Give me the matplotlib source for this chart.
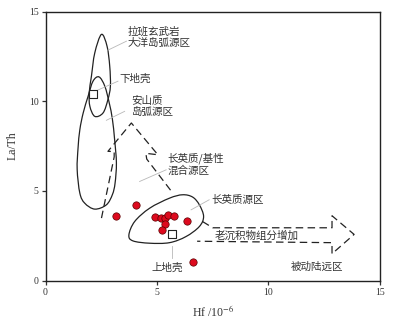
import numpy as np
import matplotlib
matplotlib.use('Agg')
import matplotlib.pyplot as plt
from matplotlib.path import Path
from matplotlib.patches import PathPatch

# sample points (Hf, La/Th)
hf = [3.18, 4.07, 4.92, 5.16, 5.38, 5.50, 5.77, 5.35, 5.21, 6.35, 6.63]
la_th = [3.63, 4.21, 3.54, 3.49, 3.50, 3.65, 3.58, 3.17, 2.83, 3.35, 1.04]

# reference crusts (squares)
crust_hf = [2.12, 5.68]
crust_lath = [10.43, 2.59]

# field outlines (Hf, La/Th)
tholeiite_arc = [(2.51, 13.73), (2.21, 12.7), (2.06, 11.4), (1.96, 10.47), (1.99, 9.72),
                 (2.21, 9.16), (2.58, 9.35), (2.80, 10.1), (2.91, 10.84), (2.88, 11.96),
                 (2.76, 13.07)]
andesite_arc = [(2.40, 11.36), (2.66, 10.84), (2.86, 9.9), (3.0, 9.0), (3.10, 7.86),
                (3.18, 6.56), (3.12, 5.44), (3.0, 4.8), (2.73, 4.23), (2.21, 3.99),
                (1.76, 4.32), (1.54, 4.88), (1.42, 6.2), (1.46, 7.4), (1.54, 8.42),
                (1.69, 9.35), (1.91, 10.28), (2.13, 11.12)]
felsic_src = [(6.15, 4.79), (5.56, 4.60), (4.67, 4.04), (4.00, 3.30), (3.74, 2.55),
              (3.92, 2.22), (4.67, 2.09), (5.56, 2.12), (6.30, 2.46), (6.90, 3.02),
              (7.09, 3.58), (6.90, 4.23), (6.60, 4.66)]
mixed_arrow = [(2.51, 3.49), (3.08, 6.9), (3.08, 7.2), (2.80, 7.21), (3.85, 8.79),
               (5.04, 7.02), (4.5, 7.1), (4.54, 6.78), (5.71, 4.88)]
passive_arrow = [(7.04, 3.30), (7.5, 2.95), (12.85, 2.95), (12.85, 3.62), (13.84, 2.58),
                 (12.85, 1.5), (12.85, 2.12), (6.8, 2.2)]


def closed_curve(pts):
    # catmull-rom through the points, handed to matplotlib as cubic beziers
    p = np.array(pts)
    n = len(p)
    verts = [p[0]]
    codes = [Path.MOVETO]
    for i in range(n):
        p0, p1, p2, p3 = p[i - 1], p[i], p[(i + 1) % n], p[(i + 2) % n]
        verts += [p1 + (p2 - p0) / 6, p2 - (p3 - p1) / 6, p2]
        codes += [Path.CURVE4] * 3
    return Path(verts, codes)


cjk = ['Noto Sans CJK SC', 'DejaVu Sans']
serif = 'Liberation Serif'
plt.rcParams['mathtext.fontset'] = 'stix'

fig = plt.figure(figsize=(3.93, 3.2), dpi=100)
ax = fig.add_axes([0.1158, 0.1228, 0.851, 0.841])

for shape in [tholeiite_arc, andesite_arc, felsic_src]:
    ax.add_patch(PathPatch(closed_curve(shape), fc='none', ec='#222222', lw=0.9))

for arr in [mixed_arrow, passive_arrow]:
    xs, ys = zip(*arr)
    ax.plot(xs, ys, color='#222222', lw=0.9, ls=(0, (6, 3.5)))

ax.scatter(hf, la_th, s=28, c='#dd0a1e', edgecolors='#5a0000', linewidths=0.5, zorder=5)
ax.scatter(crust_hf, crust_lath, s=26, marker='s', c='white', edgecolors='#222222',
           linewidths=0.8, zorder=5)

# leader lines
lead = '#b8b8b8'
for (x0, y0), (x1, y1) in [((2.80, 12.85), (3.63, 13.35)), ((2.30, 10.6), (3.25, 11.12)),
                           ((2.73, 8.94), (3.55, 9.44)), ((4.22, 5.53), (5.41, 6.18)),
                           ((6.53, 3.95), (7.34, 4.51)), ((5.68, 1.95), (5.68, 1.25))]:
    ax.plot([x0, x1], [y0, y1], color=lead, lw=0.6)

tc = '#333333'
fs = 7.6
ax.text(3.68, 13.58, '拉班玄武岩\n大洋岛弧源区', family=cjk, fontsize=fs, color=tc,
        ha='left', va='center', linespacing=1.15)
ax.text(3.33, 11.25, '下地壳', family=cjk, fontsize=fs, color=tc, ha='left', va='center')
ax.text(3.86, 9.72, '安山质\n岛弧源区', family=cjk, fontsize=fs, color=tc,
        ha='left', va='center', linespacing=1.15)
ax.text(5.48, 6.51, '长英质/基性\n混合源区', family=cjk, fontsize=fs, color=tc,
        ha='left', va='center', linespacing=1.15)
ax.text(7.42, 4.51, '长英质源区', family=cjk, fontsize=fs, color=tc, ha='left', va='center')
ax.text(7.57, 2.50, '老沉积物组分增加', family=cjk, fontsize=fs, color=tc,
        ha='left', va='center')
ax.text(5.48, 0.75, '上地壳', family=cjk, fontsize=fs, color=tc, ha='center', va='center')
ax.text(11.0, 0.78, '被动陆远区', family=cjk, fontsize=fs, color=tc, ha='left', va='center')

ax.set_xlim(0, 15)
ax.set_ylim(0, 15)
ax.set_xticks([0, 5, 10, 15])
ax.set_yticks([0, 5, 10, 15])
ax.tick_params(direction='out', length=3, width=0.9, pad=2, labelsize=7, colors='#333333')
for lbl in ax.get_xticklabels() + ax.get_yticklabels():
    lbl.set_family(serif)
for sp in ax.spines.values():
    sp.set_linewidth(1.0)
    sp.set_color('#222222')

ax.set_xlabel('Hf /10$^{-6}$', family=serif, fontsize=8.5, color=tc, labelpad=5)
ax.set_ylabel('La/Th', family=serif, fontsize=8.5, color=tc, labelpad=7)

fig.savefig('out.png', dpi=100)
